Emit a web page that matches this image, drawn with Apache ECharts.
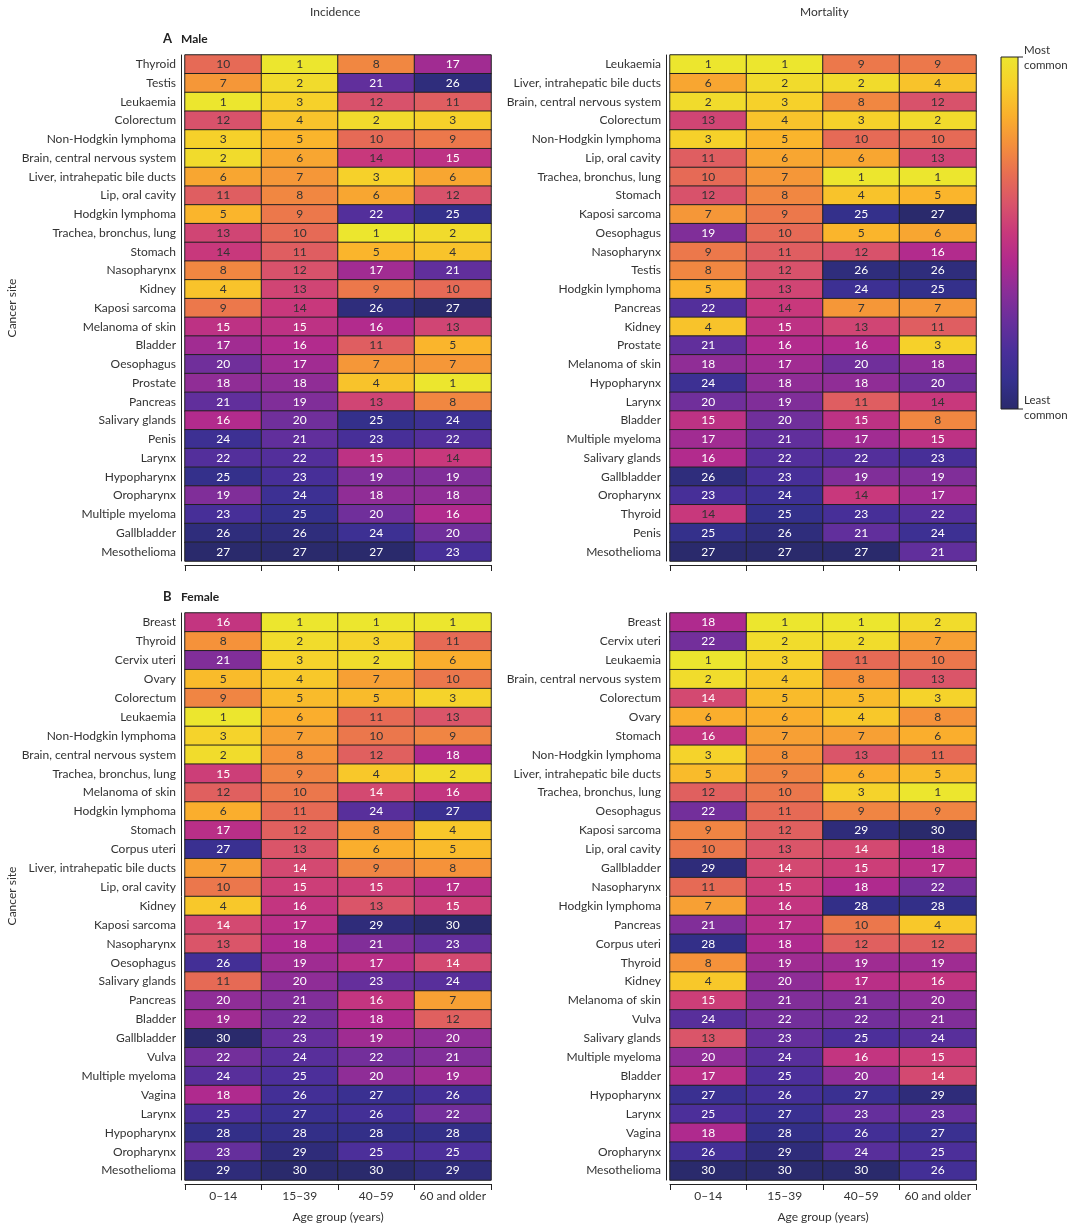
<!DOCTYPE html>
<html><head><meta charset="utf-8">
<script src="https://cdn.jsdelivr.net/npm/echarts@6/dist/echarts.min.js"></script>
<style>html,body{margin:0;background:#fff}#c{width:1080px;height:1227px}</style>
</head><body><div id="c"></div>
<script>
const ages = ['0–14','15–39','40–59','60 and older'];

const maleIncSites = ['Thyroid','Testis','Leukaemia','Colorectum','Non-Hodgkin lymphoma','Brain, central nervous system','Liver, intrahepatic bile ducts','Lip, oral cavity','Hodgkin lymphoma','Trachea, bronchus, lung','Stomach','Nasopharynx','Kidney','Kaposi sarcoma','Melanoma of skin','Bladder','Oesophagus','Prostate','Pancreas','Salivary glands','Penis','Larynx','Hypopharynx','Oropharynx','Multiple myeloma','Gallbladder','Mesothelioma'];
const maleIncRanks = [[10,1,8,17],[7,2,21,26],[1,3,12,11],[12,4,2,3],[3,5,10,9],[2,6,14,15],[6,7,3,6],[11,8,6,12],[5,9,22,25],[13,10,1,2],[14,11,5,4],[8,12,17,21],[4,13,9,10],[9,14,26,27],[15,15,16,13],[17,16,11,5],[20,17,7,7],[18,18,4,1],[21,19,13,8],[16,20,25,24],[24,21,23,22],[22,22,15,14],[25,23,19,19],[19,24,18,18],[23,25,20,16],[26,26,24,20],[27,27,27,23]];

const maleMortSites = ['Leukaemia','Liver, intrahepatic bile ducts','Brain, central nervous system','Colorectum','Non-Hodgkin lymphoma','Lip, oral cavity','Trachea, bronchus, lung','Stomach','Kaposi sarcoma','Oesophagus','Nasopharynx','Testis','Hodgkin lymphoma','Pancreas','Kidney','Prostate','Melanoma of skin','Hypopharynx','Larynx','Bladder','Multiple myeloma','Salivary glands','Gallbladder','Oropharynx','Thyroid','Penis','Mesothelioma'];
const maleMortRanks = [[1,1,9,9],[6,2,2,4],[2,3,8,12],[13,4,3,2],[3,5,10,10],[11,6,6,13],[10,7,1,1],[12,8,4,5],[7,9,25,27],[19,10,5,6],[9,11,12,16],[8,12,26,26],[5,13,24,25],[22,14,7,7],[4,15,13,11],[21,16,16,3],[18,17,20,18],[24,18,18,20],[20,19,11,14],[15,20,15,8],[17,21,17,15],[16,22,22,23],[26,23,19,19],[23,24,14,17],[14,25,23,22],[25,26,21,24],[27,27,27,21]];

const femIncSites = ['Breast','Thyroid','Cervix uteri','Ovary','Colorectum','Leukaemia','Non-Hodgkin lymphoma','Brain, central nervous system','Trachea, bronchus, lung','Melanoma of skin','Hodgkin lymphoma','Stomach','Corpus uteri','Liver, intrahepatic bile ducts','Lip, oral cavity','Kidney','Kaposi sarcoma','Nasopharynx','Oesophagus','Salivary glands','Pancreas','Bladder','Gallbladder','Vulva','Multiple myeloma','Vagina','Larynx','Hypopharynx','Oropharynx','Mesothelioma'];
const femIncRanks = [[16,1,1,1],[8,2,3,11],[21,3,2,6],[5,4,7,10],[9,5,5,3],[1,6,11,13],[3,7,10,9],[2,8,12,18],[15,9,4,2],[12,10,14,16],[6,11,24,27],[17,12,8,4],[27,13,6,5],[7,14,9,8],[10,15,15,17],[4,16,13,15],[14,17,29,30],[13,18,21,23],[26,19,17,14],[11,20,23,24],[20,21,16,7],[19,22,18,12],[30,23,19,20],[22,24,22,21],[24,25,20,19],[18,26,27,26],[25,27,26,22],[28,28,28,28],[23,29,25,25],[29,30,30,29]];

const femMortSites = ['Breast','Cervix uteri','Leukaemia','Brain, central nervous system','Colorectum','Ovary','Stomach','Non-Hodgkin lymphoma','Liver, intrahepatic bile ducts','Trachea, bronchus, lung','Oesophagus','Kaposi sarcoma','Lip, oral cavity','Gallbladder','Nasopharynx','Hodgkin lymphoma','Pancreas','Corpus uteri','Thyroid','Kidney','Melanoma of skin','Vulva','Salivary glands','Multiple myeloma','Bladder','Hypopharynx','Larynx','Vagina','Oropharynx','Mesothelioma'];
const femMortRanks = [[18,1,1,2],[22,2,2,7],[1,3,11,10],[2,4,8,13],[14,5,5,3],[6,6,4,8],[16,7,7,6],[3,8,13,11],[5,9,6,5],[12,10,3,1],[22,11,9,9],[9,12,29,30],[10,13,14,18],[29,14,15,17],[11,15,18,22],[7,16,28,28],[21,17,10,4],[28,18,12,12],[8,19,19,19],[4,20,17,16],[15,21,21,20],[24,22,22,21],[13,23,25,24],[20,24,16,15],[17,25,20,14],[27,26,27,29],[25,27,23,23],[18,28,26,27],[26,29,24,25],[30,30,30,26]];

const palette = ['#2a2a6c','#35308e','#4a2f9a','#682f9c','#8a2e98','#b02a8e','#c8387c','#d9546a','#e86e52','#f48f3c','#fab02c','#f7cf2a','#ece62e'];

const panels = [
  {sites:maleIncSites, ranks:maleIncRanks, max:27, left:185, top:55, h:506, dark:14, xl:false},
  {sites:maleMortSites, ranks:maleMortRanks, max:27, left:670, top:55, h:506, dark:14, xl:false},
  {sites:femIncSites, ranks:femIncRanks, max:30, left:185, top:613, h:567, dark:13, xl:true},
  {sites:femMortSites, ranks:femMortRanks, max:30, left:670, top:613, h:567, dark:13, xl:true}
];
const font = 'Lato, "Noto Sans", sans-serif';
const grid=[], xAxis=[], yAxis=[], series=[], visualMap=[];
panels.forEach((p,i)=>{
  grid.push({left:p.left, top:p.top, width:306, height:p.h});
  xAxis.push({type:'category', gridIndex:i, data:ages, position:'bottom', offset:4,
    axisLine:{lineStyle:{color:'#222'}}, axisTick:{show:true, length:6, lineStyle:{color:'#222'}},
    axisLabel:{show:p.xl, interval:0, color:'#333', fontSize:12, fontFamily:font, margin:6},
    name:p.xl?'Age group (years)':'', nameLocation:'middle', nameGap:27,
    nameTextStyle:{color:'#333', fontSize:12, fontFamily:font}});
  yAxis.push({type:'category', gridIndex:i, data:p.sites, inverse:true, offset:4,
    axisLine:{lineStyle:{color:'#222'}}, axisTick:{length:5, lineStyle:{color:'#222'}},
    axisLabel:{color:'#333', fontSize:12, fontFamily:font, margin:5}});
  const data=[];
  p.ranks.forEach((r,y)=>r.forEach((v,x)=>data.push({value:[x,y,v], label:{color:v<=p.dark?'#333':'#fff'}})));
  series.push({type:'heatmap', xAxisIndex:i, yAxisIndex:i, data,
    label:{show:true, fontSize:12, fontFamily:font, formatter:q=>q.value[2]},
    itemStyle:{borderColor:'#222', borderWidth:1}, emphasis:{disabled:true}});
  visualMap.push({type:'continuous', seriesIndex:i, dimension:2, min:1, max:p.max,
    inRange:{color:palette.slice().reverse()}, show:false});
});
const stops = palette.map((c,k)=>({offset:1-k/(palette.length-1), color:c}));
const chart = echarts.init(document.getElementById('c'));
chart.setOption({
  animation:false,
  grid, xAxis, yAxis, series, visualMap,
  graphic:[
    {type:'text', left:310, top:6, style:{text:'Incidence', fontSize:12, fontFamily:font, fill:'#333'}},
    {type:'text', left:800, top:6, style:{text:'Mortality', fontSize:12, fontFamily:font, fill:'#333'}},
    {type:'text', left:163, top:32, style:{text:'A', fontSize:13, fontWeight:'bold', fontFamily:font, fill:'#222'}},
    {type:'text', left:181, top:33, style:{text:'Male', fontSize:12, fontWeight:'bold', fontFamily:font, fill:'#222'}},
    {type:'text', left:163, top:590, style:{text:'B', fontSize:13, fontWeight:'bold', fontFamily:font, fill:'#222'}},
    {type:'text', left:181, top:591, style:{text:'Female', fontSize:12, fontWeight:'bold', fontFamily:font, fill:'#222'}},
    {type:'text', x:12, y:308, rotation:Math.PI/2, style:{text:'Cancer site', fontSize:12, fontFamily:font, fill:'#333', align:'center', verticalAlign:'middle'}},
    {type:'text', x:12, y:896, rotation:Math.PI/2, style:{text:'Cancer site', fontSize:12, fontFamily:font, fill:'#333', align:'center', verticalAlign:'middle'}},
    {type:'rect', shape:{x:1001, y:57, width:17, height:352}, style:{stroke:'#222', lineWidth:1,
      fill:new echarts.graphic.LinearGradient(0,0,0,1, stops.slice().reverse())}},
    {type:'polyline', shape:{points:[[1018,57],[1023,57]]}, style:{fill:'none', stroke:'#222', lineWidth:1}},
    {type:'polyline', shape:{points:[[1018,409],[1023,409]]}, style:{fill:'none', stroke:'#222', lineWidth:1}},
    {type:'text', left:1024, top:43, style:{text:'Most\ncommon', fontSize:11.5, lineHeight:15, fontFamily:font, fill:'#333'}},
    {type:'text', left:1024, top:393, style:{text:'Least\ncommon', fontSize:11.5, lineHeight:15, fontFamily:font, fill:'#333'}}
  ]
});
</script></body></html>
